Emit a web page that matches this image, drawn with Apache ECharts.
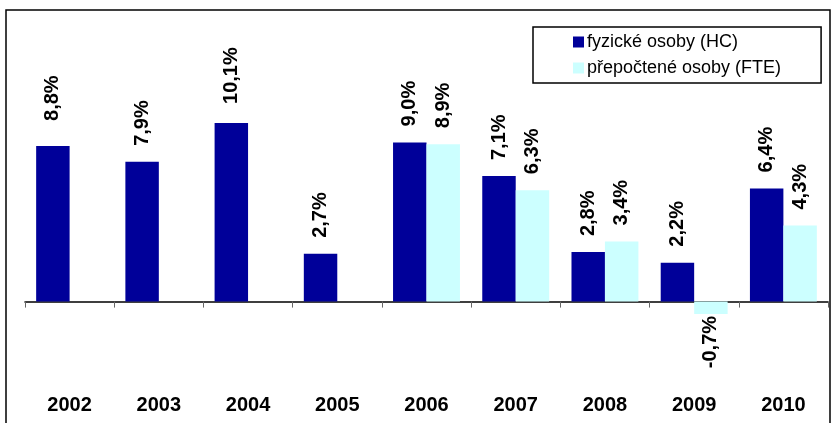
<!DOCTYPE html>
<html>
<head>
<meta charset="utf-8">
<script src="https://cdn.jsdelivr.net/npm/echarts@6/dist/echarts.min.js"></script>
<style>
  html, body { margin: 0; padding: 0; background: #fff; }
  #chart { width: 832px; height: 423px; }
</style>
</head>
<body>
<div id="chart"></div>
<script>
var dom = document.getElementById("chart");
var myChart = echarts.init(dom);

var years = ['2002', '2003', '2004', '2005', '2006', '2007', '2008', '2009', '2010'];
var hcValues = [8.8, 7.9, 10.1, 2.7, 9.0, 7.1, 2.8, 2.2, 6.4];
var fteValues = [null, null, null, null, 8.9, 6.3, 3.4, -0.7, 4.3];
var seriesNames = ['fyzické osoby (HC)', 'přepočtené osoby (FTE)'];

var font = 'Arial, "Liberation Sans", sans-serif';

// a couple of labels sit a bit higher in the original
var hcLabelDist = { '2002': 25, '2004': 19 };

function fmt(v) {
    return v.toFixed(1).replace('.', ',') + '%';
}

// positive values get the label above the bar, negative ones below
function toItems(arr, dist) {
    return arr.map(function (v, i) {
        if (v === null) return null;
        if (v < 0) {
            return {
                value: v,
                label: { position: 'bottom', align: 'right', distance: 2 }
            };
        }
        if (dist && dist[years[i]]) {
            return { value: v, label: { distance: dist[years[i]] } };
        }
        return { value: v };
    });
}

var barLabel = {
    show: true,
    position: 'top',
    rotate: 90,
    align: 'left',
    verticalAlign: 'middle',
    distance: 16,
    color: '#000',
    fontFamily: font,
    fontWeight: 'bold',
    fontSize: 20,
    formatter: function (p) { return fmt(p.value); }
};

var option = {
    animation: false,
    backgroundColor: '#fff',
    textStyle: { fontFamily: font },
    graphic: [{
        type: 'rect',
        shape: { x: 6, y: 10, width: 824, height: 430 },
        style: { fill: 'none', stroke: '#000', lineWidth: 1.5 },
        z: 0
    }],
    legend: {
        orient: 'vertical',
        left: 533,
        top: 27,
        padding: [6, 40, 6, 40],
        itemGap: 8,
        itemWidth: 11,
        itemHeight: 11,
        borderColor: '#000',
        borderWidth: 1.5,
        backgroundColor: '#fff',
        icon: 'rect',
        selectedMode: false,
        textStyle: { fontFamily: font, fontSize: 18, color: '#000', padding: [0, 0, 0, -2] },
        data: seriesNames
    },
    grid: {
        left: 25,
        right: 4,
        top: 54,
        height: 336,
        outerBoundsMode: 'none',
        containLabel: false
    },
    xAxis: {
        type: 'category',
        data: years,
        axisLine: { onZero: true, lineStyle: { color: '#000', width: 1.5 } },
        axisTick: { show: true, interval: 0, length: 6, lineStyle: { color: '#666' } },
        axisLabel: {
            interval: 0,
            margin: 5,
            color: '#000',
            fontFamily: font,
            fontWeight: 'bold',
            fontSize: 20
        },
        splitLine: { show: false }
    },
    yAxis: {
        type: 'value',
        min: -5,
        max: 14,
        show: false,
        splitLine: { show: false }
    },
    series: [{
        name: seriesNames[0],
        type: 'bar',
        barGap: '0%',
        barCategoryGap: '25%',
        itemStyle: { color: '#000099' },
        label: barLabel,
        data: toItems(hcValues, hcLabelDist)
    }, {
        name: seriesNames[1],
        type: 'bar',
        barGap: '0%',
        barCategoryGap: '25%',
        itemStyle: { color: '#CCFFFF' },
        label: barLabel,
        data: toItems(fteValues)
    }]
};

myChart.setOption(option, true);
</script>
</body>
</html>
